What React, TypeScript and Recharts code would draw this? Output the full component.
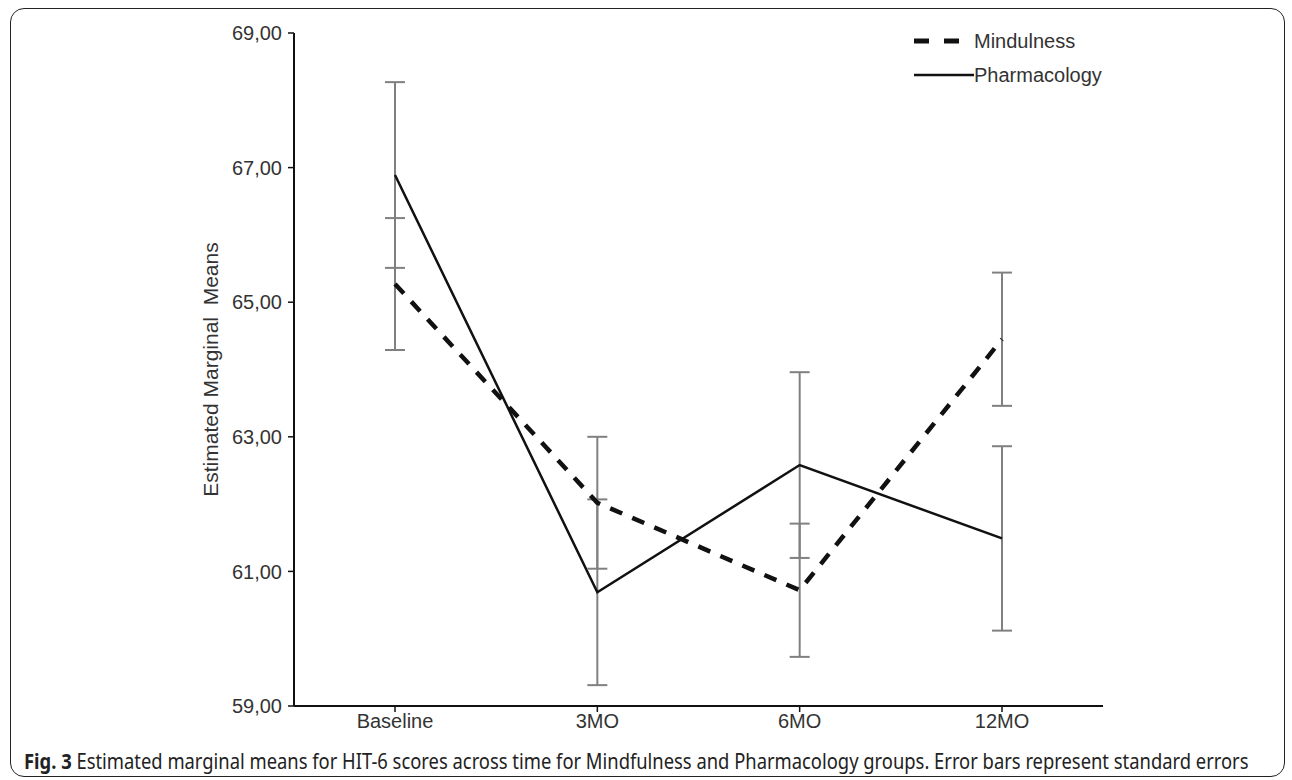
import {
  ComposedChart,
  ErrorBar,
  Legend,
  Line,
  XAxis,
  YAxis,
} from 'recharts';

const categories = ['Baseline', '3MO', '6MO', '12MO'];
const mindfulnessMeans = [65.27, 62.02, 60.72, 64.45];
const mindfulnessSE = [0.98, 0.98, 0.99, 0.99];
const pharmacologyMeans = [66.89, 60.69, 62.58, 61.49];
const pharmacologySE = [1.38, 1.38, 1.38, 1.37];
const yTicks = [59, 61, 63, 65, 67, 69];

const data = categories.map((time, i) => ({
  time,
  mindfulness: mindfulnessMeans[i],
  mindfulnessErr: mindfulnessSE[i],
  pharmacology: pharmacologyMeans[i],
  pharmacologyErr: pharmacologySE[i],
}));

const AXIS_FONT = 'Arial, "Liberation Sans", sans-serif';
const tickStyle = { fill: '#333', fontSize: 20, fontFamily: AXIS_FONT };

const YLabel = ({ viewBox }: any) => {
  const x = viewBox.x + viewBox.width - 84;
  const y = viewBox.y + viewBox.height / 2;
  return (
    <text
      x={x}
      y={y}
      transform={`rotate(-90 ${x} ${y})`}
      textAnchor='middle'
      dominantBaseline='central'
      fill='#333'
      fontSize={21}
      fontFamily={AXIS_FONT}
      style={{ whiteSpace: 'pre' }}
    >
      {'Estimated Marginal  Means'}
    </text>
  );
};

const LegendContent = () => (
  <div style={{ fontFamily: AXIS_FONT, fontSize: 20, color: '#333' }}>
    <div style={{ display: 'flex', alignItems: 'center', height: 34 }}>
      <svg width={62} height={10}>
        <line x1={2} y1={5} x2={48} y2={5} stroke='#111' strokeWidth={5} strokeDasharray='15 15' />
      </svg>
      <span>Mindulness</span>
    </div>
    <div style={{ display: 'flex', alignItems: 'center', height: 34 }}>
      <svg width={62} height={10}>
        <line x1={2} y1={5} x2={62} y2={5} stroke='#111' strokeWidth={2.5} />
      </svg>
      <span>Pharmacology</span>
    </div>
  </div>
);

export default function App() {
  return (
    <div style={{ position: 'absolute', left: 0, top: 0, width: 1292, height: 780, background: '#fff' }}>
      <div
        style={{
          position: 'absolute',
          left: 10,
          top: 8,
          width: 1273,
          height: 767,
          border: '1.5px solid #222',
          borderRadius: 14,
        }}
      />
      <div style={{ position: 'absolute', left: 0, top: 0 }}>
        <ComposedChart
          width={1292}
          height={780}
          data={data}
          margin={{ top: 33, right: 189, bottom: 44, left: 0 }}
        >
          <XAxis
            dataKey='time'
            scale='point'
            padding={{ left: 101, right: 101 }}
            axisLine={{ stroke: '#111', strokeWidth: 2 }}
            tickLine={{ stroke: '#111', strokeWidth: 1.5 }}
            tickSize={6}
            tick={tickStyle}
            height={30}
          />
          <YAxis
            type='number'
            domain={[59, 69]}
            ticks={yTicks}
            interval={0}
            width={294}
            tickFormatter={(v: number) => v.toFixed(2).replace('.', ',')}
            axisLine={{ stroke: '#111', strokeWidth: 2 }}
            tickLine={{ stroke: '#111', strokeWidth: 1.5 }}
            tickSize={6}
            tickMargin={6}
            tick={tickStyle}
            label={<YLabel />}
          />
          <Legend
            layout='vertical'
            verticalAlign='middle'
            align='center'
            content={<LegendContent />}
            wrapperStyle={{ position: 'absolute', top: 24, left: 912, width: 240 }}
          />
          <Line
            dataKey='pharmacology'
            stroke='#111'
            strokeWidth={2.5}
            dot={false}
            activeDot={false}
            isAnimationActive={false}
          >
            <ErrorBar dataKey='pharmacologyErr' direction='y' width={10} stroke='#808080' strokeWidth={2} />
          </Line>
          <Line
            dataKey='mindfulness'
            stroke='#111'
            strokeWidth={4.5}
            strokeDasharray='13 11'
            dot={false}
            activeDot={false}
            isAnimationActive={false}
          >
            <ErrorBar dataKey='mindfulnessErr' direction='y' width={10} stroke='#808080' strokeWidth={2} />
          </Line>
        </ComposedChart>
      </div>
      <div
        style={{
          position: 'absolute',
          left: 24,
          top: 746,
          fontFamily: '"Noto Sans", sans-serif',
          fontSize: 21,
          lineHeight: '30px',
          color: '#222',
          whiteSpace: 'nowrap',
          transform: 'scaleX(0.875)',
          transformOrigin: 'left center',
        }}
      >
        <b>Fig. 3</b> Estimated marginal means for HIT-6 scores across time for Mindfulness and Pharmacology groups. Error bars represent standard errors
      </div>
    </div>
  );
}
